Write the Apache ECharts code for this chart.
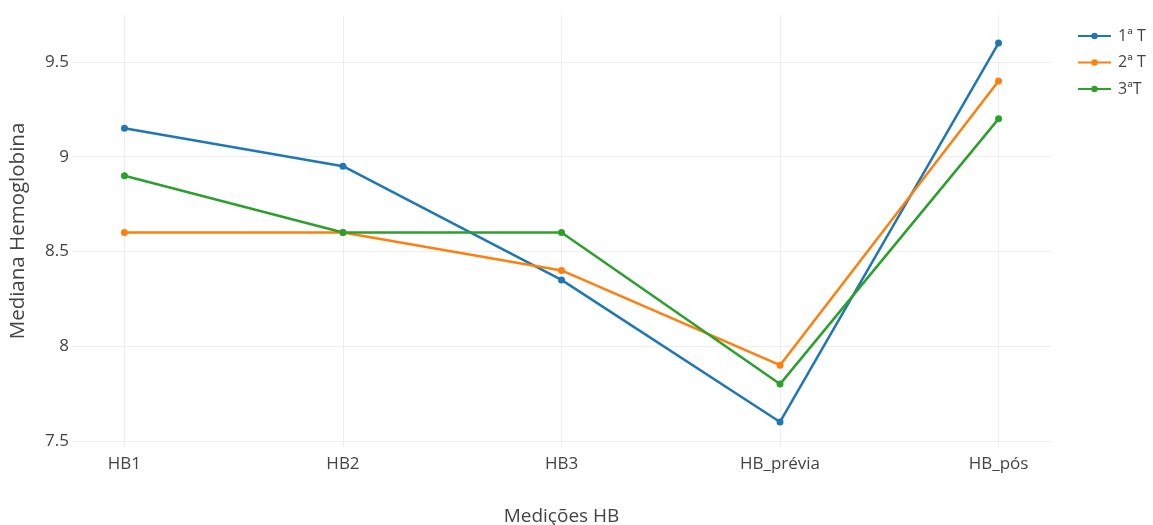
<!DOCTYPE html>
<html><head><meta charset="utf-8">
<script src="https://cdn.jsdelivr.net/npm/echarts@6/dist/echarts.min.js"></script>
<style>html,body{margin:0;padding:0;background:#fff}#c{width:1153px;height:525px}</style>
</head><body><div id="c"></div>
<script>
const categories = ['HB1', 'HB2', 'HB3', 'HB_prévia', 'HB_pós'];
const seriesNames = ['1ª T', '2ª T', '3ªT'];
const t1 = [9.15, 8.95, 8.35, 7.6, 9.6];
const t2 = [8.6, 8.6, 8.4, 7.9, 9.4];
const t3 = [8.9, 8.6, 8.6, 7.8, 9.2];
const yTicks = [7.5, 8, 8.5, 9, 9.5];
const xTicks = [0, 1, 2, 3, 4];
const colors = ['#1f77b4', '#ff7f0e', '#2ca02c'];

const font = '"Open Sans", sans-serif';
const chart = echarts.init(document.getElementById('c'));
function mk(name, vals, color) {
  return {
    name, type: 'line', data: vals.map((v, i) => [i, v]),
    symbol: 'circle', symbolSize: 7,
    lineStyle: { width: 2.5, color }, itemStyle: { color },
    emphasis: { disabled: true }
  };
}
chart.setOption({
  animation: false,
  textStyle: { fontFamily: font },
  grid: { left: 72, right: 102, top: 15, bottom: 78, containLabel: false, outerBoundsMode: 'none' },
  legend: {
    orient: 'vertical', left: 1077, top: 28, itemGap: 10.5, padding: 0,
    itemWidth: 33, itemHeight: 8,
    textStyle: { fontFamily: font, fontSize: 16, color: '#444', overflow: 'none', padding: [0, 0, 0, 2] },
    data: seriesNames
  },
  xAxis: {
    type: 'value', min: -0.24, max: 4.24,
    name: 'Medições HB', nameLocation: 'middle', nameGap: 60,
    nameTextStyle: { fontFamily: font, fontSize: 19, color: '#444' },
    axisLine: { show: false },
    axisTick: { show: false, customValues: xTicks },
    axisLabel: { customValues: xTicks, margin: 9, fontSize: 17, color: '#444',
      formatter: v => categories[Math.round(v)] },
    splitLine: { show: true, lineStyle: { color: '#eeeeee', width: 1 } }
  },
  yAxis: {
    type: 'value', min: 7.468, max: 9.748,
    name: 'Mediana Hemoglobina', nameLocation: 'middle', nameGap: 43,
    nameTextStyle: { fontFamily: font, fontSize: 20.5, color: '#444' },
    axisLine: { show: false },
    axisTick: { show: false, customValues: yTicks },
    axisLabel: { customValues: yTicks, margin: 3, fontSize: 17, color: '#444' },
    splitLine: { show: true, lineStyle: { color: '#eeeeee', width: 1 } }
  },
  series: [mk(seriesNames[0], t1, colors[0]), mk(seriesNames[1], t2, colors[1]), mk(seriesNames[2], t3, colors[2])]
});
</script></body></html>
